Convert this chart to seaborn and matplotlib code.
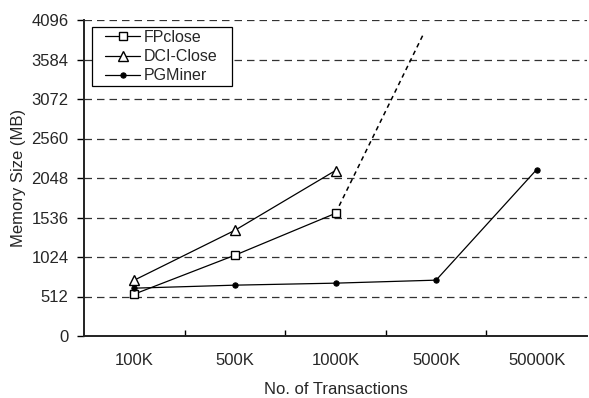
import matplotlib
matplotlib.use("Agg")
import matplotlib.pyplot as plt
from matplotlib.patches import Rectangle
import seaborn as sns
import numpy as np

categories = ["100K", "500K", "1000K", "5000K", "50000K"]
fpclose = [543, 1047, 1590]
dci_close = [724, 1370, 2145]
pgminer = [620, 659, 685, 724, 2158]
fpclose_trend_x = [2, 2.88]
fpclose_trend_y = [1590, 3930]
yticks = [0, 512, 1024, 1536, 2048, 2560, 3072, 3584, 4096]

sns.set_theme(style="white")
plt.rcParams['font.family'] = ['Liberation Sans', 'DejaVu Sans']

W, H = 589, 398
fig = plt.figure(figsize=(W / 100, H / 100), dpi=100)
ax = fig.add_axes([84 / W, (H - 336) / H, (587 - 84) / W, (336 - 20) / H])

for y in yticks[1:]:
    ax.axhline(y, color="#333333", lw=0.9, ls=(0, (6, 4)), zorder=0)

sns.lineplot(x=list(range(len(fpclose))), y=fpclose, ax=ax, color="black", lw=0.9,
             marker="s", markersize=5.5, markerfacecolor="white", markeredgecolor="black",
             markeredgewidth=1, label="FPclose", zorder=3)
sns.lineplot(x=list(range(len(dci_close))), y=dci_close, ax=ax, color="black", lw=0.9,
             marker="^", markersize=6.5, markerfacecolor="white", markeredgecolor="black",
             markeredgewidth=1, label="DCI-Close", zorder=3)
sns.lineplot(x=list(range(len(pgminer))), y=pgminer, ax=ax, color="black", lw=0.9,
             marker="o", markersize=3.8, markerfacecolor="black", markeredgecolor="black",
             label="PGMiner", zorder=3)
ax.plot(fpclose_trend_x, fpclose_trend_y, color="black", lw=1.1, ls=(0, (3, 2.5)), zorder=2)

ax.set_xlim(-0.5, 4.5)
ax.set_ylim(0, 4096)
ax.set_xticks(range(len(categories)))
ax.set_xticklabels(categories, fontsize=12)
ax.set_xticks(np.arange(0.5, 4.0, 1.0), minor=True)
ax.set_yticks(yticks)
ax.set_yticklabels([str(v) for v in yticks], fontsize=12)
ax.tick_params(axis="x", which="major", direction="inout", length=9, width=1, color="black", pad=8)
ax.tick_params(axis="x", which="minor", direction="in", length=4, width=1, color="black", bottom=True)
ax.tick_params(axis="y", which="major", direction="out", length=5, width=1, color="black", left=True, pad=6)

for s in ["top", "right"]:
    ax.spines[s].set_visible(False)
for s in ["left", "bottom"]:
    ax.spines[s].set_color("#222222")
    ax.spines[s].set_linewidth(1.4)

ax.set_xlabel("No. of Transactions", fontsize=12, labelpad=10)
ax.set_ylabel("Memory Size (MB)", fontsize=12, labelpad=4)

leg = ax.legend(loc="upper left", bbox_to_anchor=((105 - 84) / (587 - 84), 1 - (30 - 20) / (336 - 20)),
                fontsize=11.5, frameon=False, handlelength=2.2, handletextpad=0.25,
                borderpad=0.0, labelspacing=0.26, borderaxespad=0)
ax.add_patch(Rectangle((92 / W, (H - 86) / H), (232 - 92) / W, (86 - 27) / H,
                       transform=fig.transFigure, fill=True, facecolor="white",
                       edgecolor="black", lw=0.9, zorder=1.5, clip_on=False))

fig.savefig("out.png", dpi=100)
